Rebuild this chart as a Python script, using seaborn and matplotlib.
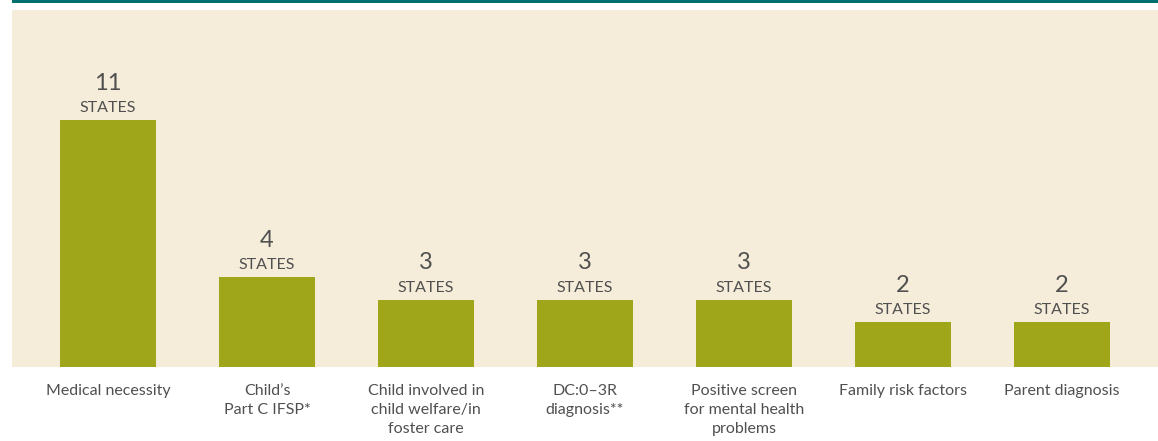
"""
States by eligibility criterion for infant/early childhood mental health services.
"""

import pandas as pd
import matplotlib.pyplot as plt
import seaborn as sns
from matplotlib.patches import Rectangle

sns.set_theme(style="white")
plt.rcParams["font.family"] = ["Lato", "DejaVu Sans"]

# ── Data ─────────────────────────────────────────────────────────────────────
categories = [
    "Medical necessity",
    "Child’s\nPart C IFSP*",
    "Child involved in\nchild welfare/in\nfoster care",
    "DC:0–3R\ndiagnosis**",
    "Positive screen\nfor mental health\nproblems",
    "Family risk factors",
    "Parent diagnosis",
]
states = [11, 4, 3, 3, 3, 2, 2]

df = pd.DataFrame({"criterion": categories, "states": states})

BAR = "#a0a619"
BG = "#f5ecda"
TEAL = "#00706f"
TEXT = "#505050"

# ── Plot ─────────────────────────────────────────────────────────────────────
fig = plt.figure(figsize=(11.58, 4.41), dpi=100)
ax = fig.add_axes([12 / 1158, 74 / 441, 1 - 12 / 1158, 357 / 441])
ax.set_facecolor(BG)

sns.barplot(data=df, x="criterion", y="states", color=BAR, width=0.604,
            saturation=1, linewidth=0, ax=ax)

ax.set_xlim(-0.604, 6.604)
ax.set_ylim(0, 15.9)
ax.set_xlabel("")
ax.set_ylabel("")
ax.set_yticks([])
for s in ax.spines.values():
    s.set_visible(False)
ax.tick_params(axis="x", length=0, pad=12, labelsize=11.5, labelcolor=TEXT)
for lab in ax.get_xticklabels():
    lab.set_linespacing(1.45)

for i, v in enumerate(states):
    ax.annotate("STATES", (i, v), xytext=(0, 3.5), textcoords="offset points",
                ha="center", va="bottom", fontsize=11.5, color=TEXT)
    ax.annotate(str(v), (i, v), xytext=(0, 19), textcoords="offset points",
                ha="center", va="bottom", fontsize=17, color=TEXT)

# teal rule across the top
fig.add_artist(Rectangle((12 / 1158, 1 - 3 / 441), 1, 3 / 441,
                         transform=fig.transFigure, color=TEAL, lw=0))

plt.savefig("out.png", dpi=100)
